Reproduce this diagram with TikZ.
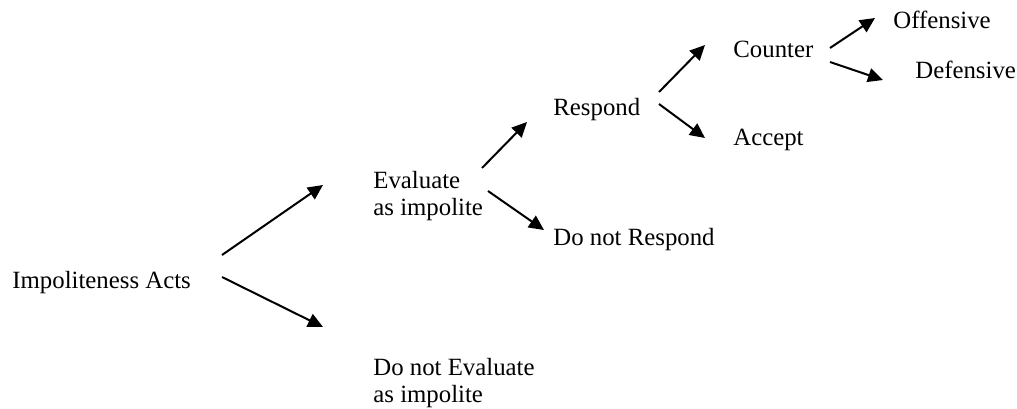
\documentclass[tikz,border=0pt]{standalone}
\usepackage{fontspec}
\setmainfont{Liberation Serif}
\usetikzlibrary{arrows.meta}
\begin{document}
\begin{tikzpicture}[x=0.5pt,y=-0.5pt,
  lbl/.style={anchor=base west,inner sep=0pt,align=left,font=\fontsize{12.4}{13.5}\selectfont},
  arr/.style={-{Triangle[length=7.5pt,width=7pt]},line width=1pt}]
\useasboundingbox (0,0) rectangle (1017,408);
\node[lbl] (imp) at (12,288) {Impoliteness Acts};
\node[lbl] (eval) at (373,215) {Evaluate\\as impolite};
\node[lbl] (noteval) at (373,402) {Do not Evaluate\\as impolite};
\node[lbl] (resp) at (553,115) {Respond};
\node[lbl] (notresp) at (553,245) {Do not Respond};
\node[lbl] (counter) at (733,57) {Counter};
\node[lbl] (accept) at (733,145) {Accept};
\node[lbl] (off) at (893,28) {Offensive};
\node[lbl] (def) at (915,78) {Defensive};
\draw[arr] ([shift={(210,-33)}]imp.base west) -- ([shift={(-50,-30)}]eval.base west);
\draw[arr] ([shift={(210,-11)}]imp.base west) -- ([shift={(-50,-75)}]noteval.base west);
\draw[arr] ([shift={(109,-47)}]eval.base west) -- ([shift={(-26,7)}]resp.base west);
\draw[arr] ([shift={(115,-24)}]eval.base west) -- ([shift={(-9,-15)}]notresp.base west);
\draw[arr] ([shift={(106,-23)}]resp.base west) -- ([shift={(-28,-12)}]counter.base west);
\draw[arr] ([shift={(106,-11)}]resp.base west) -- ([shift={(-28,-7)}]accept.base west);
\draw[arr] ([shift={(97,-9)}]counter.base west) -- ([shift={(-18,-10)}]off.base west);
\draw[arr] ([shift={(97,5)}]counter.base west) -- ([shift={(-32,2)}]def.base west);
\end{tikzpicture}
\end{document}
